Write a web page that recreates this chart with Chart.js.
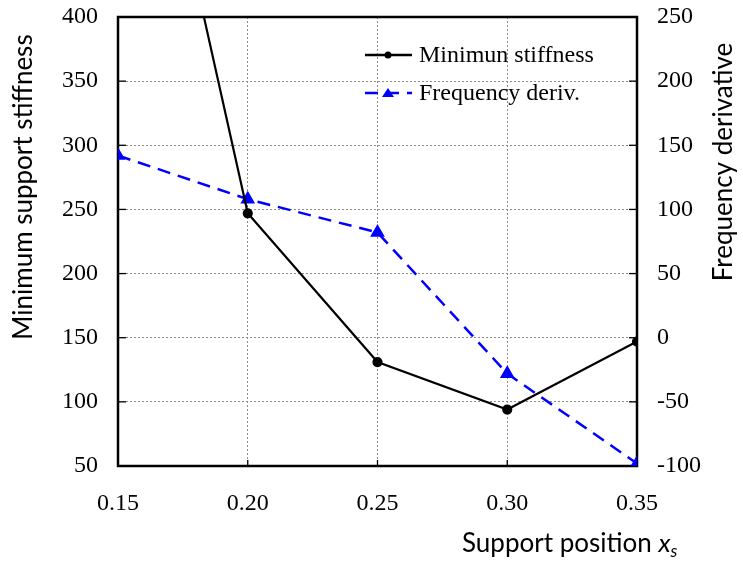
<!DOCTYPE html>
<html>
<head>
<meta charset="utf-8">
<script src="https://cdn.jsdelivr.net/npm/chart.js@4"></script>
<style>
  html, body { margin: 0; padding: 0; background: #fff; }
  #wrap { width: 743px; height: 572px; }
</style>
</head>
<body>
<div id="wrap"><canvas id="chart" width="743" height="572"></canvas></div>
<script>
// data
const positions = [0.15, 0.20, 0.25, 0.30, 0.35];
const minStiffness = [700, 247, 131, 94, 147];
const freqDeriv = [142, 108, 82, -28, -98];
const legendLabels = ['Minimun stiffness', 'Frequency deriv.'];

const serif = '"Liberation Serif", "Times New Roman", serif';
const sans = 'Lato, "Open Sans", sans-serif';

// frame, inner ticks, legend and axis titles
const decor = {
    id: 'decor',
    beforeDatasetsDraw(chart) {
        const ctx = chart.ctx;
        const a = chart.chartArea;
        const sx = chart.scales.x, yl = chart.scales.y, yr = chart.scales.y2;
        ctx.save();
        ctx.strokeStyle = '#000';
        ctx.lineWidth = 1.3;
        yl.ticks.forEach(t => {
            const p = yl.getPixelForValue(t.value);
            ctx.beginPath(); ctx.moveTo(a.left, p); ctx.lineTo(a.left + 8, p); ctx.stroke();
        });
        yr.ticks.forEach(t => {
            const p = yr.getPixelForValue(t.value);
            ctx.beginPath(); ctx.moveTo(a.right, p); ctx.lineTo(a.right - 8, p); ctx.stroke();
        });
        sx.ticks.forEach(t => {
            const p = sx.getPixelForValue(t.value);
            ctx.beginPath(); ctx.moveTo(p, a.bottom); ctx.lineTo(p, a.bottom - 6); ctx.stroke();
        });
        ctx.lineWidth = 2.5;
        ctx.strokeRect(a.left, a.top, a.right - a.left, a.bottom - a.top);
        ctx.restore();
    },
    afterDraw(chart) {
        const ctx = chart.ctx;
        ctx.save();
        // legend
        const sets = chart.data.datasets;
        const rows = [55, 93];
        sets.forEach((ds, i) => {
            const y = rows[i];
            ctx.strokeStyle = ds.borderColor;
            ctx.lineWidth = 2.5;
            ctx.setLineDash(ds.borderDash || []);
            ctx.beginPath(); ctx.moveTo(365, y); ctx.lineTo(412, y); ctx.stroke();
            ctx.setLineDash([]);
            ctx.fillStyle = ds.borderColor;
            ctx.beginPath();
            if (ds.pointStyle === 'triangle') {
                ctx.moveTo(388, y - 5); ctx.lineTo(394, y + 4); ctx.lineTo(382, y + 4); ctx.closePath();
            } else {
                ctx.arc(388, y, 3.5, 0, Math.PI * 2);
            }
            ctx.fill();
            ctx.fillStyle = '#000';
            ctx.font = '24px ' + serif;
            ctx.textBaseline = 'middle';
            ctx.textAlign = 'left';
            ctx.fillText(ds.label, 419, y + 1);
        });
        // axis titles
        ctx.fillStyle = '#000';
        ctx.font = '26px ' + sans;
        ctx.textBaseline = 'middle';
        ctx.textAlign = 'center';
        ctx.save();
        ctx.translate(24, 187);
        ctx.rotate(-Math.PI / 2);
        ctx.fillText('Minimum support stiffness', 0, 0);
        ctx.restore();
        ctx.save();
        ctx.translate(724, 162);
        ctx.rotate(-Math.PI / 2);
        ctx.fillText('Frequency derivative', 0, 0);
        ctx.restore();
        ctx.textAlign = 'left';
        const t1 = 'Support position ';
        let x = 462;
        ctx.fillText(t1, x, 544);
        x += ctx.measureText(t1).width;
        ctx.font = 'italic 26px ' + sans;
        ctx.fillText('x', x, 544);
        x += ctx.measureText('x').width;
        ctx.font = 'italic 17px ' + sans;
        ctx.fillText('s', x, 552);
        ctx.restore();
    }
};

const tickFont = { family: serif, size: 24 };
// keep the plot box where the reference has it
const noEdgePad = s => { s.paddingTop = 0; s.paddingBottom = 0; };

new Chart(document.getElementById('chart').getContext('2d'), {
    type: 'line',
    data: {
        datasets: [{
            label: legendLabels[0],
            data: positions.map((p, i) => ({ x: p, y: minStiffness[i] })),
            yAxisID: 'y',
            borderColor: '#000000',
            backgroundColor: '#000000',
            borderWidth: 2.2,
            pointStyle: 'circle',
            pointRadius: 4,
            tension: 0
        }, {
            label: legendLabels[1],
            data: positions.map((p, i) => ({ x: p, y: freqDeriv[i] })),
            yAxisID: 'y2',
            borderColor: '#0000ff',
            backgroundColor: '#0000ff',
            borderWidth: 2.5,
            borderDash: [13, 8],
            pointStyle: 'triangle',
            pointRadius: 6,
            tension: 0
        }]
    },
    options: {
        responsive: false,
        animation: false,
        layout: { padding: { top: 17, left: 0, right: 0, bottom: 0 } },
        plugins: { legend: { display: false }, tooltip: { enabled: false } },
        scales: {
            x: {
                type: 'linear',
                min: 0.15, max: 0.35,
                afterFit: s => { s.height = 106; },
                ticks: { stepSize: 0.05, color: '#000', font: tickFont, padding: 23,
                         callback: v => v.toFixed(2) },
                grid: { color: '#8a8a8a', lineWidth: 1, drawTicks: false },
                border: { display: false, dash: [2, 2] }
            },
            y: {
                position: 'left',
                min: 50, max: 400,
                afterFit: s => { s.width = 118; noEdgePad(s); },
                ticks: { stepSize: 50, color: '#000', font: tickFont, padding: 20 },
                grid: { color: '#8a8a8a', lineWidth: 1, drawTicks: false },
                border: { display: false, dash: [2, 2] }
            },
            y2: {
                position: 'right',
                min: -100, max: 250,
                afterFit: s => { s.width = 106; noEdgePad(s); },
                ticks: { stepSize: 50, color: '#000', font: tickFont, padding: 20 },
                grid: { display: false, drawTicks: false },
                border: { display: false }
            }
        }
    },
    plugins: [decor]
});
</script>
</body>
</html>
